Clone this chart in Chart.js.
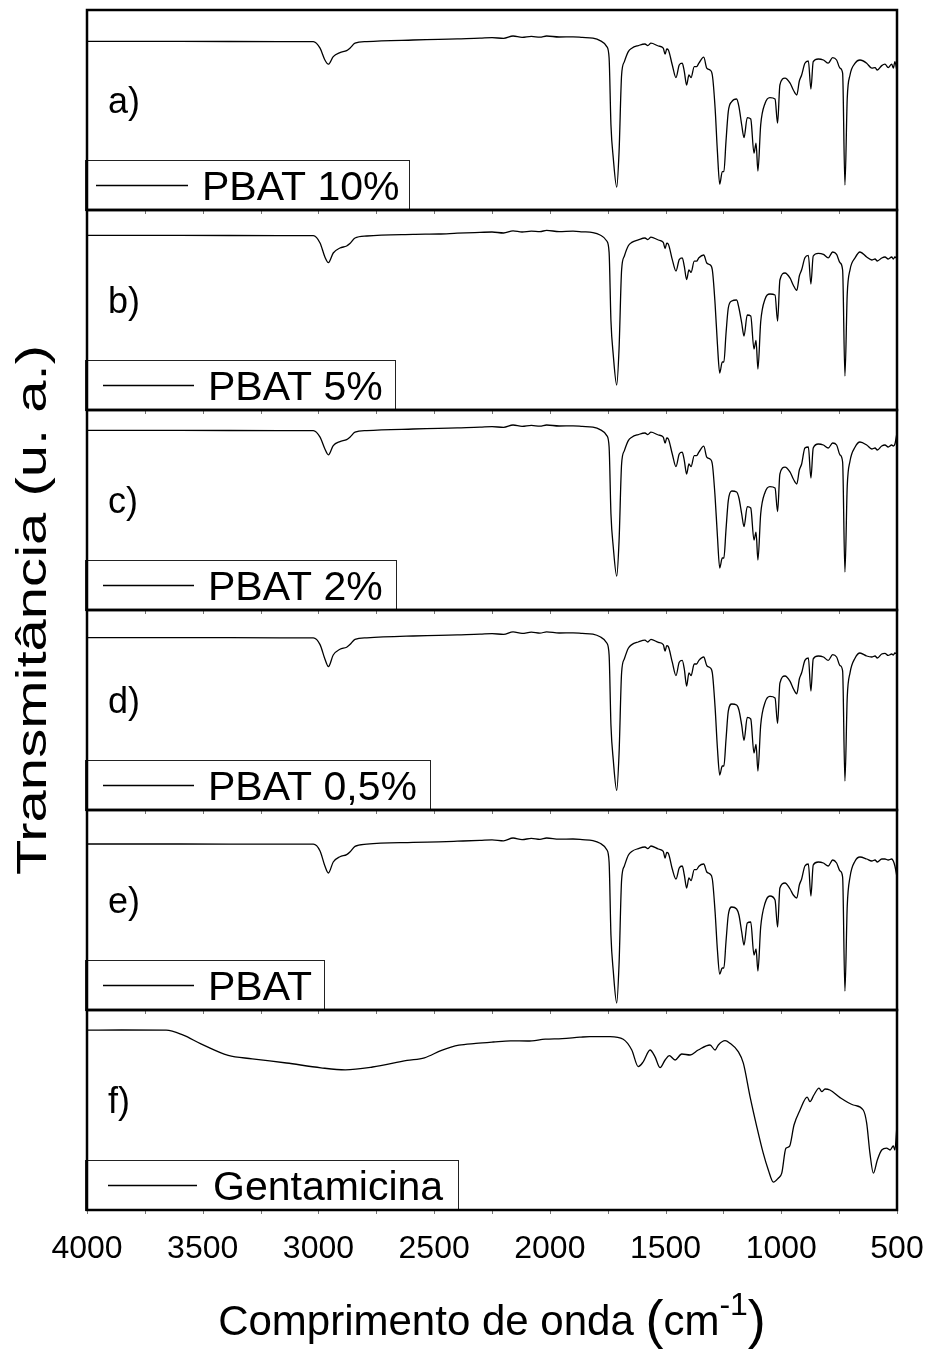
<!DOCTYPE html>
<html>
<head>
<meta charset="utf-8">
<title>FTIR – PBAT e Gentamicina</title>
<script src="https://cdn.jsdelivr.net/npm/chart.js@4.4.0/dist/chart.umd.min.js"></script>
<style>
  html, body { margin: 0; padding: 0; background: #fff; }
  canvas { display: block; }
</style>
</head>
<body>
<canvas id="ftir" width="931" height="1353"></canvas>
<script>
// Wavenumbers (cm-1) sampled along the PBAT spectra
const pbatWavenumbers = [
  4000, 3600, 3166, 3022, 2993, 2972, 2957, 2936, 2907, 2878,
  2864, 2842, 2791, 2591, 2480, 2400, 2302, 2250, 2200, 2159,
  2120, 2080, 2043, 2014, 1960, 1900, 1860, 1814, 1783, 1754,
  1744, 1736, 1726, 1711, 1701, 1690, 1678, 1661, 1646, 1618,
  1589, 1577, 1563, 1531, 1510, 1502, 1495, 1488, 1471, 1455,
  1441, 1428, 1419, 1409, 1399, 1390, 1376, 1366, 1356, 1335,
  1322, 1308, 1298, 1286, 1276, 1266, 1255, 1248, 1239, 1229,
  1214, 1193, 1183, 1171, 1161, 1147, 1132, 1118, 1109, 1101,
  1089, 1070, 1049, 1027, 1016, 1006, 984, 962, 948, 933,
  922, 912, 898, 883, 872, 862, 840, 818, 797, 778,
  761, 746, 735, 725, 715, 703, 681, 660, 631, 609,
  595, 585, 566, 552, 538, 523, 516, 509, 501
];

// Relative transmittance (u. a.) of each PBAT film
const pbat10 = [
  84.3, 84.3, 84.2, 84.2, 80.9, 75.0, 72.9, 76.7, 78.7, 79.7,
  80.9, 83.4, 84.2, 85.0, 85.3, 85.6, 85.9, 86.2, 85.8, 87.0,
  86.3, 86.8, 86.4, 87.0, 86.5, 86.6, 86.3, 85.9, 84.7, 81.7,
  76.0, 42.5, 26.0, 11.4, 29.0, 67.5, 74.2, 79.2, 80.9, 82.2,
  83.0, 82.2, 83.4, 82.0, 80.9, 77.9, 80.5, 80.0, 72.5, 66.2,
  72.5, 73.4, 69.2, 62.5, 67.5, 66.2, 71.7, 71.7, 73.4, 76.4,
  70.9, 70.0, 67.5, 51.0, 29.2, 12.9, 19.2, 19.2, 34.2, 49.2,
  54.2, 55.5, 51.7, 42.5, 36.2, 46.2, 45.5, 28.4, 33.4, 19.5,
  42.5, 53.4, 56.2, 55.5, 43.4, 62.5, 65.9, 63.4, 60.0, 57.5,
  64.5, 67.5, 73.4, 74.5, 60.5, 74.2, 75.5, 75.0, 73.4, 76.2,
  75.0, 70.9, 68.4, 12.5, 55.9, 67.5, 73.4, 75.0, 73.4, 70.9,
  71.2, 70.0, 72.2, 72.9, 71.2, 72.9, 70.9, 74.2, 70.0
];
const pbat5 = [
  87.3, 87.3, 87.2, 87.2, 83.5, 76.5, 73.7, 78.5, 81.0, 82.0,
  83.2, 86.0, 87.0, 87.8, 88.0, 88.4, 88.8, 89.0, 88.5, 89.6,
  89.0, 89.4, 89.2, 89.8, 89.2, 89.4, 89.1, 88.7, 87.5, 84.5,
  78.8, 44.5, 27.5, 12.5, 30.6, 70.0, 77.0, 82.1, 83.8, 85.1,
  86.0, 85.2, 86.4, 85.0, 83.8, 80.7, 83.4, 82.9, 75.2, 69.5,
  75.2, 76.1, 71.8, 65.2, 70.1, 68.8, 74.4, 74.4, 76.1, 77.5,
  73.5, 72.6, 70.1, 53.0, 33.0, 18.5, 24.0, 24.0, 38.0, 51.0,
  54.5, 55.0, 51.0, 43.5, 37.0, 47.5, 47.0, 30.5, 34.8, 20.5,
  44.0, 55.5, 58.0, 57.5, 44.5, 65.0, 68.5, 65.9, 62.4, 59.8,
  67.0, 70.1, 76.1, 77.3, 63.0, 77.0, 78.3, 77.8, 76.1, 79.0,
  77.8, 73.6, 70.0, 17.0, 58.0, 70.1, 76.1, 79.0, 76.5, 75.0,
  75.5, 74.5, 76.0, 76.5, 75.5, 76.5, 75.5, 76.5, 75.8
];
const pbat2 = [
  89.8, 89.8, 89.7, 89.7, 86.4, 80.5, 77.6, 82.2, 84.2, 85.2,
  86.4, 88.9, 89.7, 90.5, 90.8, 91.1, 91.4, 91.7, 91.3, 92.5,
  91.8, 92.3, 91.9, 92.5, 92.0, 92.1, 91.8, 91.4, 90.2, 87.2,
  81.5, 48.0, 31.5, 16.9, 34.5, 73.0, 79.7, 84.7, 86.4, 87.7,
  88.5, 87.7, 88.9, 87.5, 86.4, 83.4, 86.0, 85.5, 78.0, 71.7,
  78.0, 78.9, 74.7, 68.0, 73.0, 71.7, 77.2, 77.2, 78.9, 81.9,
  76.4, 75.5, 73.0, 56.5, 37.0, 21.0, 26.0, 26.0, 40.0, 54.7,
  59.5, 59.0, 56.0, 48.0, 41.7, 51.7, 51.0, 35.0, 38.9, 25.0,
  48.0, 58.9, 61.7, 61.0, 49.2, 68.0, 71.4, 68.9, 65.5, 63.0,
  70.0, 73.0, 81.0, 81.5, 66.0, 81.0, 83.0, 82.5, 81.0, 83.5,
  82.5, 77.5, 74.0, 19.0, 62.0, 74.5, 81.5, 84.0, 82.5, 80.5,
  81.0, 80.0, 82.0, 82.5, 81.5, 82.5, 82.0, 83.0, 88.0
];
const pbat05 = [
  86.2, 86.2, 86.1, 86.1, 82.7, 75.5, 71.7, 77.5, 80.4, 81.4,
  82.7, 85.3, 86.1, 87.0, 87.3, 87.6, 87.9, 88.2, 87.8, 89.1,
  88.3, 88.9, 88.4, 89.1, 88.5, 88.6, 88.3, 87.9, 86.6, 83.5,
  77.5, 42.4, 25.1, 9.8, 28.2, 68.6, 75.6, 80.9, 82.7, 84.0,
  84.9, 84.0, 85.3, 83.8, 82.7, 79.5, 82.2, 81.7, 73.9, 67.2,
  73.9, 74.8, 70.4, 62.0, 68.6, 67.2, 73.0, 73.0, 74.8, 76.5,
  72.2, 71.2, 68.6, 51.3, 31.0, 17.5, 22.0, 22.0, 35.0, 49.4,
  53.0, 52.5, 50.0, 42.4, 34.8, 46.3, 45.5, 28.5, 32.8, 19.5,
  42.4, 53.8, 56.8, 56.0, 43.3, 63.4, 67.0, 64.3, 60.7, 58.1,
  65.5, 68.6, 74.8, 76.0, 59.5, 75.6, 77.0, 76.5, 74.8, 77.7,
  76.5, 72.2, 69.6, 14.5, 56.4, 68.6, 76.0, 78.5, 77.0, 76.5,
  77.0, 76.0, 78.0, 78.3, 77.3, 78.0, 77.5, 78.5, 78.0
];
const pbatPure = [
  83.0, 83.0, 82.9, 82.9, 79.5, 72.0, 68.5, 74.0, 76.6, 77.7,
  79.0, 81.8, 82.9, 83.8, 84.1, 84.4, 84.8, 85.1, 84.6, 86.0,
  85.2, 85.8, 85.3, 86.0, 85.4, 85.5, 85.2, 84.7, 83.4, 80.1,
  73.9, 37.4, 19.5, 3.5, 23.0, 65.0, 72.0, 77.4, 79.3, 80.7,
  81.5, 80.7, 82.0, 80.5, 79.3, 76.0, 78.8, 78.3, 70.5, 65.5,
  71.0, 72.0, 67.5, 61.0, 66.0, 64.7, 70.2, 70.2, 71.9, 73.0,
  69.0, 68.0, 65.5, 49.0, 30.0, 18.0, 21.0, 21.0, 34.0, 47.5,
  51.5, 50.5, 47.5, 39.0, 32.5, 43.5, 44.0, 27.5, 30.5, 19.5,
  41.5, 53.5, 57.0, 55.0, 41.5, 61.0, 63.5, 60.5, 57.5, 56.0,
  62.5, 65.5, 72.0, 73.0, 57.0, 72.5, 74.0, 73.5, 72.0, 75.0,
  73.5, 69.5, 66.5, 9.5, 52.0, 66.5, 74.5, 76.5, 75.5, 74.5,
  75.0, 74.0, 75.5, 75.5, 75.0, 75.5, 74.5, 72.0, 67.0
];

// Gentamicin spectrum
const gentaWavenumbers = [
  4000, 3850, 3658, 3584, 3510, 3390, 3286, 3138, 2989, 2884,
  2766, 2617, 2542, 2468, 2393, 2320, 2245, 2170, 2096, 2020,
  1947, 1870, 1827, 1740, 1683, 1646, 1618, 1596, 1567, 1546,
  1524, 1502, 1484, 1459, 1430, 1394, 1359, 1308, 1286, 1272,
  1243, 1222, 1186, 1164, 1135, 1106, 1078, 1056, 1034, 1013,
  998, 980, 965, 945, 919, 888, 876, 859, 837, 825,
  811, 790, 746, 689, 646, 631, 617, 602, 585, 566,
  545, 530, 516, 509, 501
];
const gentamicina = [
  89.9, 90.0, 89.9, 87.4, 83.2, 77.3, 75.6, 73.5, 71.1, 70.1,
  71.5, 74.8, 76.1, 79.8, 82.4, 83.3, 84.0, 84.6, 84.5, 85.4,
  85.7, 86.4, 86.7, 86.7, 85.4, 80.0, 71.7, 74.2, 80.0, 76.7,
  71.2, 75.0, 77.2, 75.0, 78.0, 77.5, 80.0, 82.5, 80.0, 82.5,
  84.7, 83.4, 79.2, 73.4, 56.7, 41.7, 28.4, 20.0, 13.9, 15.9,
  18.4, 30.9, 31.7, 42.5, 50.0, 56.4, 54.2, 57.5, 60.9, 59.2,
  60.5, 60.0, 56.2, 52.5, 50.0, 43.4, 28.4, 18.4, 25.0, 30.0,
  30.9, 30.0, 32.0, 30.0, 40.9
];

const panelTags = ['a)', 'b)', 'c)', 'd)', 'e)', 'f)'];
const seriesNames = ['PBAT 10%', 'PBAT 5%', 'PBAT 2%', 'PBAT 0,5%', 'PBAT', 'Gentamicina'];
const xTickValues = [4000, 3500, 3000, 2500, 2000, 1500, 1000, 500];

const FONT = '"Liberation Sans", Arial, Helvetica, sans-serif';

const panels = [
  { wn: pbatWavenumbers, t: pbat10 },
  { wn: pbatWavenumbers, t: pbat5 },
  { wn: pbatWavenumbers, t: pbat2 },
  { wn: pbatWavenumbers, t: pbat05 },
  { wn: pbatWavenumbers, t: pbatPure },
  { wn: gentaWavenumbers, t: gentamicina }
];

// Legend boxes and panel letters (pixel styling only)
const legendStyle = [
  { lineFrom: 96,  lineTo: 188, textX: 202, right: 409 },
  { lineFrom: 103, lineTo: 194, textX: 208, right: 395 },
  { lineFrom: 103, lineTo: 194, textX: 208, right: 396 },
  { lineFrom: 103, lineTo: 194, textX: 208, right: 430 },
  { lineFrom: 103, lineTo: 194, textX: 208, right: 324 },
  { lineFrom: 108, lineTo: 197, textX: 213, right: 458 }
];
const tagStyle = { x: 108, baseline: 103, size: 36 };

// Each panel gets its own hidden y axis whose range places 0..100 in its own band
const nPanels = panels.length;
const scales = {
  x: {
    type: 'linear',
    reverse: true,
    min: 500,
    max: 4000,
    afterBuildTicks(scale) { scale.ticks = xTickValues.map(v => ({ value: v })); },
    ticks: {
      color: '#000',
      font: { family: FONT, size: 32 },
      padding: 20,
      maxRotation: 0,
      autoSkip: false,
      callback: v => String(v)
    },
    grid: { display: false, drawTicks: false, tickLength: 0 },
    border: { display: false },
    afterFit(scale) {
      scale.height = 143;
      scale.paddingLeft = 0;
      scale.paddingRight = 0;
    }
  }
};
panels.forEach((p, k) => {
  scales['y' + k] = {
    type: 'linear',
    display: false,
    min: -(nPanels - 1 - k) * 100,
    max: 100 + k * 100
  };
});

const datasets = panels.map((p, k) => ({
  label: seriesNames[k],
  data: p.wn.map((w, i) => ({ x: w, y: p.t[i] })),
  yAxisID: 'y' + k,
  borderColor: '#000',
  borderWidth: 1.3,
  pointRadius: 0,
  fill: false,
  cubicInterpolationMode: 'monotone'
}));

const decorations = {
  id: 'decorations',
  afterDatasetsDraw(chart) {
    const ctx = chart.ctx;
    const xs = chart.scales.x;
    const area = chart.chartArea;
    ctx.save();
    panels.forEach((p, k) => {
      const ys = chart.scales['y' + k];
      const top = ys.getPixelForValue(100);
      const bottom = ys.getPixelForValue(0);

      // minor tick marks every 250 cm-1 below each panel
      ctx.strokeStyle = '#777';
      ctx.lineWidth = 1;
      for (let w = 500; w <= 4000; w += 250) {
        const x = Math.round(xs.getPixelForValue(w)) + 0.5;
        ctx.beginPath();
        ctx.moveTo(x, bottom);
        ctx.lineTo(x, bottom + 4);
        ctx.stroke();
      }

      // legend box
      const L = legendStyle[k];
      const boxTop = bottom - 50;
      ctx.fillStyle = '#fff';
      ctx.fillRect(85, boxTop, L.right - 85, 50);
      ctx.strokeStyle = '#222';
      ctx.lineWidth = 1;
      ctx.strokeRect(85.5, boxTop + 0.5, L.right - 85, 50);
      ctx.strokeStyle = '#000';
      ctx.lineWidth = 1.3;
      ctx.beginPath();
      ctx.moveTo(L.lineFrom, bottom - 24.5);
      ctx.lineTo(L.lineTo, bottom - 24.5);
      ctx.stroke();
      ctx.fillStyle = '#000';
      ctx.font = '41px ' + FONT;
      ctx.textAlign = 'left';
      ctx.textBaseline = 'alphabetic';
      ctx.fillText(seriesNames[k], L.textX, bottom - 10);

      // panel letter
      ctx.font = tagStyle.size + 'px ' + FONT;
      ctx.fillText(panelTags[k], tagStyle.x, top + tagStyle.baseline);

      // panel frame
      ctx.strokeStyle = '#000';
      ctx.lineWidth = 2.5;
      ctx.strokeRect(area.left, top, area.right - area.left, bottom - top);
    });

    // y axis title (drawn elongated along its direction)
    ctx.fillStyle = '#000';
    ctx.save();
    ctx.translate(34, (area.top + area.bottom) / 2);
    ctx.rotate(-Math.PI / 2);
    ctx.scale(1.35, 1);
    ctx.font = '43px ' + FONT;
    ctx.textAlign = 'center';
    ctx.textBaseline = 'middle';
    ctx.fillText('Transmitância (u. a.)', 0, 0);
    ctx.restore();

    // x axis title with superscript
    const parts = [
      { t: 'Comprimento de onda ', size: 42, dy: 0 },
      { t: '(', size: 54, dy: 3 },
      { t: 'cm', size: 42, dy: 0 },
      { t: '-1', size: 32, dy: -20 },
      { t: ')', size: 54, dy: 3 }
    ];
    let total = 0;
    parts.forEach(pt => { ctx.font = pt.size + 'px ' + FONT; pt.w = ctx.measureText(pt.t).width; total += pt.w; });
    let x = (area.left + area.right) / 2 - total / 2;
    const base = 1335;
    ctx.textAlign = 'left';
    ctx.textBaseline = 'alphabetic';
    parts.forEach(pt => {
      ctx.font = pt.size + 'px ' + FONT;
      ctx.fillText(pt.t, x, base + pt.dy);
      x += pt.w;
    });
    ctx.restore();
  }
};

new Chart(document.getElementById('ftir'), {
  type: 'line',
  data: { datasets },
  options: {
    responsive: false,
    animation: false,
    devicePixelRatio: 1,
    layout: { padding: { left: 87, right: 34, top: 10, bottom: 0 } },
    plugins: { legend: { display: false }, tooltip: { enabled: false } },
    scales
  },
  plugins: [decorations]
});
</script>
</body>
</html>
